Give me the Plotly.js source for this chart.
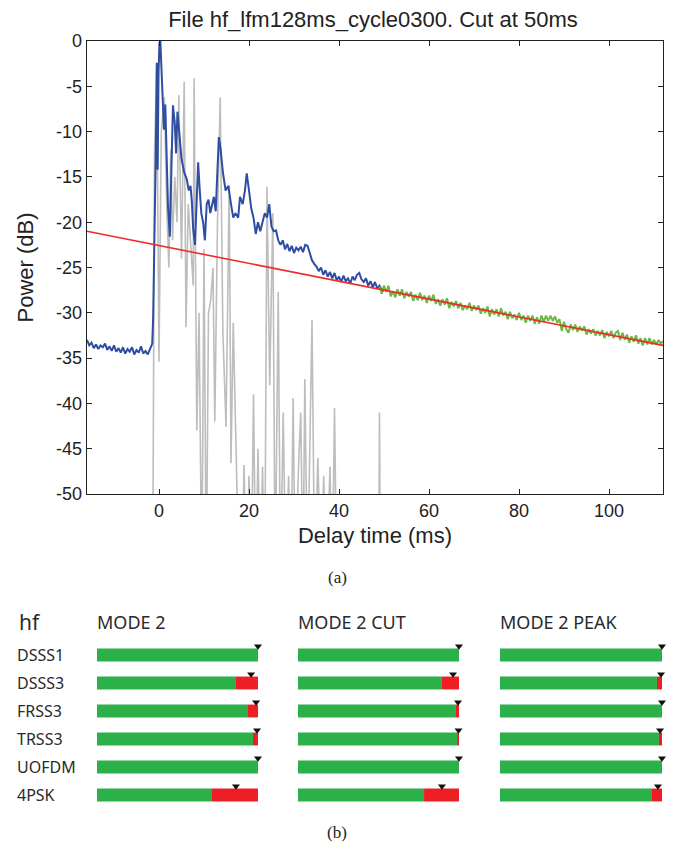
<!DOCTYPE html>
<html><head><meta charset="utf-8">
<script src="https://cdn.plot.ly/plotly-3.0.1.min.js"></script>
<style>html,body{margin:0;padding:0;background:#fff}#chart{width:673px;height:849px}</style>
</head><body><div id="chart"></div>
<script>
const chartTitle = "File hf_lfm128ms_cycle0300. Cut at 50ms";
const xTitle = "Delay time (ms)";
const yTitle = "Power (dB)";
const xTickVals = [0, 20, 40, 60, 80, 100];
const xTickText = ["0", "20", "40", "60", "80", "100"];
const yTickVals = [-50, -45, -40, -35, -30, -25, -20, -15, -10, -5, 0];
const yTickText = ["-50", "-45", "-40", "-35", "-30", "-25", "-20", "-15", "-10", "-5", "0"];

// blue: averaged power delay profile [ms, dB]
const blueSamples = [
[-16,-33.0],[-15.5,-33.6],[-15,-33.3],[-14.5,-33.9],[-14,-33.5],[-13.5,-34.0],[-13,-33.6],[-12.5,-33.8],
[-12,-33.4],[-11.5,-34.1],[-11,-33.7],[-10.5,-34.2],[-10,-33.6],[-9.5,-34.3],[-9,-33.9],[-8.5,-34.4],
[-8,-33.8],[-7.5,-34.5],[-7,-34.0],[-6.5,-34.3],[-6,-33.8],[-5.5,-34.6],[-5,-34.1],[-4.5,-34.4],
[-4,-33.7],[-3.5,-34.5],[-3,-34.2],[-2.5,-34.6],[-2,-34.0],[-1.5,-33.4],[-1.3,-30.5],[-1.1,-25.3],
[-0.9,-21.0],[-0.7,-12.0],[-0.5,-2.4],[-0.3,-14.2],[-0.1,-3.5],[0.1,-0.2],[0.3,0],[0.5,-3.0],
[0.8,-5.0],[1.1,-9.8],[1.4,-7.0],[1.7,-12.0],[2.0,-18.3],[2.4,-21.6],[2.7,-15.0],[3.1,-7.1],
[3.5,-9.0],[3.8,-12.4],[4.1,-7.8],[4.5,-10.0],[5.0,-13.0],[5.6,-14.5],[6.2,-15.3],[6.6,-16.5],
[7.0,-16.0],[7.3,-17.7],[7.6,-20.8],[8.0,-22.5],[8.4,-17.0],[8.7,-13.4],[9.0,-16.0],[9.4,-19.0],
[9.8,-20.0],[10.2,-22.0],[10.6,-18.0],[11.0,-17.5],[11.4,-19.0],[11.8,-18.0],[12.2,-17.2],[12.6,-18.8],
[13.0,-14.0],[13.3,-10.6],[13.7,-12.0],[14.2,-14.5],[14.8,-16.5],[15.4,-16.0],[16.0,-18.0],[16.5,-19.5],
[17.0,-19.0],[17.6,-19.5],[18.0,-17.2],[18.6,-18.0],[19.1,-16.5],[19.5,-14.6],[20.0,-16.5],[20.5,-18.5],
[21.0,-19.5],[21.5,-21.3],[22.0,-20.0],[22.5,-21.0],[23.0,-20.0],[23.5,-19.0],[24.0,-19.5],[24.5,-18.0],
[25.0,-20.5],[25.5,-21.0],[26.0,-20.9],[26.5,-22.0],[27.0,-22.5],[27.5,-22.0],[28.0,-23.0],[28.5,-22.4],
[29.0,-23.2],[29.5,-22.6],[30.0,-23.4],[30.5,-22.8],[31.0,-23.1],[31.5,-22.7],[32.0,-23.3],[32.5,-22.5],
[33.0,-22.6],[33.5,-23.5],[34.0,-24.2],[34.5,-24.6],[35.0,-24.9],[35.5,-25.4],[36.0,-25.0],[36.5,-25.8],
[37.0,-25.3],[37.5,-26.0],[38.0,-25.5],[38.5,-26.2],[39.0,-25.6],[39.5,-26.4],[40.0,-26.0],[40.5,-26.6],
[41.0,-25.9],[41.5,-26.5],[42.0,-26.2],[42.5,-26.8],[43.0,-26.0],[43.5,-26.4],[44.0,-25.8],[44.5,-25.6],
[45.0,-26.3],[45.5,-26.6],[46.0,-26.2],[46.5,-27.0],[47.0,-26.5],[47.5,-27.2],[48.0,-26.6],[48.5,-27.3],
[49.0,-27.0],[49.5,-27.5],[50.0,-27.6]
];

// gray: single-shot impulse response [ms, dB] (values below -50 run off the axis)
const graySamples = [
[-1.4,-60],[-1.0,-12.3],[-0.5,-3.0],[0.0,-35.4],[0.5,-10.0],[1.2,-6.2],[1.7,-18.0],[2.2,-25.0],
[2.6,-12.0],[3.0,-22.0],[3.5,-15.0],[4.0,-20.0],[4.4,-6.0],[5.0,-24.0],[5.6,-4.5],[6.0,-31.6],
[6.5,-18.0],[7.0,-22.0],[7.6,-27.0],[7.8,-4.1],[8.4,-43.0],[8.9,-30.0],[9.5,-60],[10.0,-23.0],
[10.5,-60],[11.0,-30.0],[11.5,-28.6],[12.0,-25.0],[12.4,-42.0],[13.0,-20.0],[13.6,-6.2],[14.2,-32.2],
[14.9,-42.6],[15.6,-15.9],[16.0,-46.6],[16.5,-31.1],[17.2,-45.0],[17.8,-60],[18.4,-60],[18.9,-46.8],
[19.4,-60],[20.0,-48.0],[20.5,-60],[21.0,-39.0],[21.5,-60],[22.0,-45.0],[22.5,-60],[23.0,-47.0],
[23.5,-60],[24.0,-16.1],[24.6,-38.0],[25.3,-19.0],[25.8,-60],[26.5,-27.7],[27.0,-60],[27.6,-41.0],
[28.2,-60],[28.8,-48.0],[29.3,-60],[29.8,-39.4],[30.3,-60],[31.0,-47.0],[31.5,-41.0],[32.0,-60],
[32.4,-37.3],[33.0,-60],[34.0,-30.8],[34.6,-60],[35.3,-46.0],[36.0,-60],[36.6,-48.0],[37.2,-60],
[38.0,-47.0],[38.5,-60],[39.0,-40.5],[39.5,-60],[48.8,-60],[49.0,-41.0],[49.2,-60]
];

// green: profile after the 50 ms cut [ms, dB]
const greenSamples = [
[49,-27.1],[49.5,-27.9],[50,-27.0],[50.5,-27.7],[51,-27.0],[51.5,-28.2],[52,-27.6],[52.5,-28.3],
[53,-27.4],[53.5,-28.1],[54,-27.4],[54.5,-28.4],[55,-27.7],[55.5,-28.2],[56,-27.7],[56.5,-28.7],
[57,-28.0],[57.5,-28.6],[58,-27.8],[58.5,-28.6],[59,-28.1],[59.5,-28.9],[60,-28.1],[60.5,-28.7],
[61,-28.0],[61.5,-29.0],[62,-28.5],[62.5,-29.2],[63,-28.5],[63.5,-29.1],[64,-28.4],[64.5,-29.5],
[65,-28.8],[65.5,-29.3],[66,-28.7],[66.5,-29.5],[67,-28.9],[67.5,-29.7],[68,-29.2],[68.5,-29.6],
[69,-28.9],[69.5,-29.8],[70,-29.2],[70.5,-29.7],[71,-29.2],[71.5,-30.1],[72,-29.5],[72.5,-30.0],
[73,-29.3],[73.5,-30.4],[74,-29.6],[74.5,-30.2],[75,-29.6],[75.5,-30.4],[76,-29.5],[76.5,-30.3],
[77,-29.9],[77.5,-30.7],[78,-29.9],[78.5,-30.6],[79,-30.2],[79.5,-30.8],[80,-30.0],[80.5,-30.8],
[81,-30.3],[81.5,-31.1],[82,-30.3],[82.5,-30.9],[83,-30.3],[83.5,-31.2],[84,-30.5],[84.5,-31.2],
[85,-30.3],[85.5,-31.0],[86,-30.3],[86.5,-30.9],[87,-30.3],[87.5,-30.9],[88,-30.4],[88.5,-31.1],
[89,-30.7],[89.5,-32.0],[90,-31.0],[90.5,-31.8],[91,-32.2],[91.5,-31.3],[92,-31.9],[92.5,-31.3],
[93,-32.1],[93.5,-31.5],[94,-32.0],[94.5,-31.5],[95,-32.4],[95.5,-31.8],[96,-32.3],[96.5,-31.8],
[97,-32.5],[97.5,-32.0],[98,-32.5],[98.5,-31.9],[99,-32.8],[99.5,-32.1],[100,-32.6],[100.5,-32.0],
[101,-32.8],[101.5,-32.2],[102,-32.0],[102.5,-33.0],[103,-32.2],[103.5,-33.0],[104,-32.4],[104.5,-33.3],
[105,-32.6],[105.5,-33.2],[106,-32.5],[106.5,-33.4],[107,-32.8],[107.5,-33.6],[108,-32.8],[108.5,-33.5],
[109,-32.8],[109.5,-33.5],[110,-33.0],[110.5,-33.5],[111,-33.0],[111.5,-33.4],[112,-33.1]
];

// red: fitted exponential decay (straight line in dB)
const redTime = [-16, 112];
const redPower = [-21.0, -33.6];

// panel (b)
const panelLetterA = "(a)";
const panelLetterB = "(b)";
const groupLabel = "hf";
const modes = ["MODE 2", "MODE 2 CUT", "MODE 2 PEAK"];
const schemes = ["DSSS1", "DSSS3", "FRSS3", "TRSS3", "UOFDM", "4PSK"];
const greenShare = [
  [1.0, 0.863, 0.938, 0.969, 1.0, 0.714],
  [1.0, 0.894, 0.981, 0.988, 1.0, 0.783],
  [1.0, 0.969, 1.0, 0.981, 1.0, 0.938]
];
const markerPos = [
  [1.0, 0.957, 0.988, 0.994, 1.0, 0.863],
  [1.0, 0.963, 0.994, 0.997, 1.0, 0.894],
  [1.0, 0.994, 1.0, 0.988, 1.0, 0.975]
];

const W = 673, H = 849;
const px = v => v / W;
const py = v => 1 - v / H;
const sans = "Liberation Sans, Arial, sans-serif";
const hum = "Noto Sans, Open Sans, sans-serif";
const axisColor = "#222";

const traces = [
  {x: graySamples.map(d => d[0]), y: graySamples.map(d => d[1]), type: "scatter", mode: "lines",
   line: {color: "#bdbdbd", width: 1.6}, xaxis: "x", yaxis: "y", hoverinfo: "skip"},
  {x: blueSamples.map(d => d[0]), y: blueSamples.map(d => d[1]), type: "scatter", mode: "lines",
   line: {color: "#2f4ea3", width: 2}, xaxis: "x", yaxis: "y"},
  {x: greenSamples.map(d => d[0]), y: greenSamples.map(d => d[1]), type: "scatter", mode: "lines",
   line: {color: "#6bb845", width: 2}, xaxis: "x", yaxis: "y"},
  {x: redTime, y: redPower, type: "scatter", mode: "lines",
   line: {color: "#ee2a2a", width: 1.6}, xaxis: "x", yaxis: "y"}
];

const rowIdx = schemes.map((s, i) => i);
const bDomX = [[97, 258], [298, 459], [500, 662]];
modes.forEach((m, k) => {
  const xa = "x" + (k + 2);
  traces.push({type: "bar", orientation: "h", x: greenShare[k], y: rowIdx, base: 0,
    width: 0.46, marker: {color: "#2bb04a", line: {width: 0}}, xaxis: xa, yaxis: "y2"});
  traces.push({type: "bar", orientation: "h", x: greenShare[k].map(g => 1 - g), y: rowIdx, base: greenShare[k],
    width: 0.46, marker: {color: "#ed1f24", line: {width: 0}}, xaxis: xa, yaxis: "y2"});
  traces.push({type: "scatter", mode: "markers", x: markerPos[k], y: rowIdx.map(i => i - 0.31),
    marker: {symbol: "triangle-down", size: 7, color: "#111"}, xaxis: xa, yaxis: "y2", cliponaxis: false});
});

const hidden = {visible: true, showgrid: false, zeroline: false, showline: false, showticklabels: false, ticks: "", fixedrange: true};

const layout = {
  width: W, height: H,
  margin: {l: 0, r: 0, t: 0, b: 0},
  paper_bgcolor: "#fff", plot_bgcolor: "#fff",
  showlegend: false,
  barmode: "overlay",
  title: {text: chartTitle, font: {family: sans, size: 22, color: "#222"},
          x: px(373), xref: "paper", xanchor: "center", y: py(19), yref: "container", yanchor: "middle"},
  xaxis: {domain: [px(87), px(663)], range: [-16, 112], anchor: "y",
    tickmode: "array", tickvals: xTickVals, ticktext: xTickText,
    ticks: "inside", ticklen: 5, tickwidth: 1, tickcolor: axisColor,
    showline: true, linecolor: axisColor, linewidth: 1.3, mirror: "ticks",
    showgrid: false, zeroline: false,
    tickfont: {family: sans, size: 18, color: "#222"},
    title: {text: xTitle, font: {family: sans, size: 22, color: "#222"}, standoff: 7},
    automargin: false},
  yaxis: {domain: [py(494), py(41)], range: [-50, 0], anchor: "x",
    tickmode: "array", tickvals: yTickVals, ticktext: yTickText,
    ticks: "inside", ticklen: 5, tickwidth: 1, tickcolor: axisColor,
    showline: true, linecolor: axisColor, linewidth: 1.3, mirror: "ticks",
    showgrid: false, zeroline: false,
    tickfont: {family: sans, size: 18, color: "#222"},
    title: {text: yTitle, font: {family: sans, size: 22, color: "#222"}, standoff: 16},
    automargin: false},
  yaxis2: Object.assign({}, hidden, {domain: [py(809), py(641)], range: [5.5, -0.5], anchor: "x2"}),
  annotations: []
};
bDomX.forEach((d, k) => {
  layout["xaxis" + (k + 2)] = Object.assign({}, hidden, {domain: [px(d[0]), px(d[1])], range: [0, 1], anchor: "y2"});
  layout.annotations.push({text: modes[k], xref: "paper", yref: "paper", x: px(d[0] - 2), y: py(622),
    xanchor: "left", yanchor: "middle", showarrow: false, font: {family: hum, size: 18, color: "#2a2a2a"}});
});
layout.annotations.push({text: groupLabel, xref: "paper", yref: "paper", x: px(17), y: py(622),
  xanchor: "left", yanchor: "middle", showarrow: false, font: {family: hum, size: 21, color: "#2a2a2a"}});
schemes.forEach((s, i) => {
  layout.annotations.push({text: s, xref: "paper", yref: "y2", x: px(15), y: i,
    xanchor: "left", yanchor: "middle", showarrow: false, font: {family: hum, size: 16, color: "#2a2a2a"}});
});
layout.annotations.push({text: panelLetterA, xref: "paper", yref: "paper", x: px(337), y: py(577),
  xanchor: "center", yanchor: "middle", showarrow: false, font: {family: "Liberation Serif, Times New Roman, serif", size: 17, color: "#222"}});
layout.annotations.push({text: panelLetterB, xref: "paper", yref: "paper", x: px(337), y: py(832),
  xanchor: "center", yanchor: "middle", showarrow: false, font: {family: "Liberation Serif, Times New Roman, serif", size: 17, color: "#222"}});

Plotly.newPlot("chart", traces, layout, {staticPlot: true, displayModeBar: false});
</script>
</body></html>
